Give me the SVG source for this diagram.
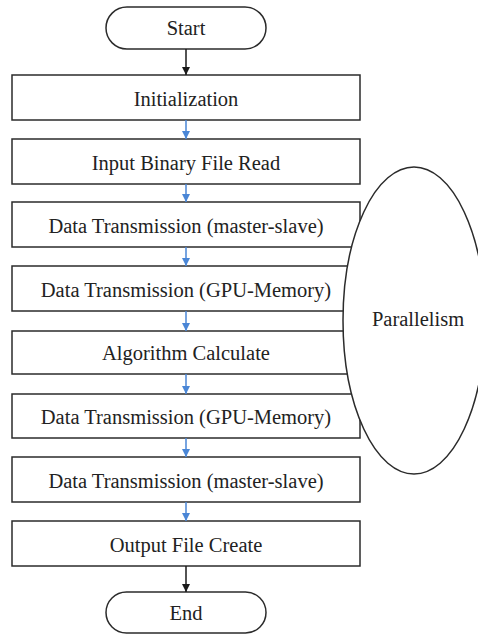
<svg xmlns="http://www.w3.org/2000/svg" width="478" height="635" viewBox="0 0 478 635">
  <style>
    .box { fill: #ffffff; stroke: #2b2b2b; stroke-width: 1.5; }
    .lbl { font-family: "Liberation Serif", "DejaVu Serif", serif; font-size: 20.5px; fill: #222222; text-anchor: middle; }
    .blk { stroke: #1a1a1a; stroke-width: 1.5; fill: none; }
    .blu { stroke: #4a86d6; stroke-width: 1.5; fill: none; }
  </style>
  <defs>
    <marker id="ahBlack" viewBox="0 0 10 10" refX="10" refY="5" markerWidth="8" markerHeight="8" markerUnits="userSpaceOnUse" orient="auto">
      <path d="M0,0 L10,5 L0,10 Z" fill="#1a1a1a"/>
    </marker>
    <marker id="ahBlue" viewBox="0 0 10 10" refX="10" refY="5" markerWidth="8" markerHeight="8" markerUnits="userSpaceOnUse" orient="auto">
      <path d="M0,0 L10,5 L0,10 Z" fill="#4a86d6"/>
    </marker>
  </defs>
  <rect width="478" height="635" fill="#ffffff"/>

  <!-- process steps -->
  <g id="start"><rect class="box" x="106" y="7" width="160" height="42" rx="21"/><text class="lbl" x="186" y="35">Start</text></g>
  <g id="init"><rect class="box" x="12" y="75" width="348" height="45"/><text class="lbl" x="186" y="105.5">Initialization</text></g>
  <g id="read"><rect class="box" x="12" y="139" width="348" height="45"/><text class="lbl" x="186" y="169.5">Input Binary File Read</text></g>
  <g id="ms1"><rect class="box" x="12" y="202" width="348" height="45"/><text class="lbl" x="186" y="232.5">Data Transmission (master-slave)</text></g>
  <g id="gpu1"><rect class="box" x="12" y="266" width="348" height="45"/><text class="lbl" x="186" y="296.5">Data Transmission (GPU-Memory)</text></g>
  <g id="calc"><rect class="box" x="12" y="331" width="348" height="43"/><text class="lbl" x="186" y="360">Algorithm Calculate</text></g>
  <g id="gpu2"><rect class="box" x="12" y="394" width="348" height="44"/><text class="lbl" x="186" y="424">Data Transmission (GPU-Memory)</text></g>
  <g id="ms2"><rect class="box" x="12" y="457" width="348" height="45"/><text class="lbl" x="186" y="487.5">Data Transmission (master-slave)</text></g>
  <g id="output"><rect class="box" x="12" y="521" width="348" height="45"/><text class="lbl" x="186" y="551.5">Output File Create</text></g>
  <g id="end"><rect class="box" x="106" y="592" width="160" height="41" rx="20.5"/><text class="lbl" x="186" y="620">End</text></g>

  <!-- parallel region, drawn over the box edges -->
  <g id="parallelism">
    <ellipse class="box" cx="414" cy="320.5" rx="71" ry="153.5"/>
    <text class="lbl" x="418" y="326">Parallelism</text>
  </g>

  <!-- connectors -->
  <g id="connectors">
    <line class="blk" x1="186" y1="49" x2="186" y2="75" marker-end="url(#ahBlack)"/>
    <line class="blu" x1="186" y1="120" x2="186" y2="139" marker-end="url(#ahBlue)"/>
    <line class="blu" x1="186" y1="184" x2="186" y2="202" marker-end="url(#ahBlue)"/>
    <line class="blu" x1="186" y1="247" x2="186" y2="266" marker-end="url(#ahBlue)"/>
    <line class="blu" x1="186" y1="311" x2="186" y2="331" marker-end="url(#ahBlue)"/>
    <line class="blu" x1="186" y1="374" x2="186" y2="394" marker-end="url(#ahBlue)"/>
    <line class="blu" x1="186" y1="438" x2="186" y2="457" marker-end="url(#ahBlue)"/>
    <line class="blu" x1="186" y1="502" x2="186" y2="521" marker-end="url(#ahBlue)"/>
    <line class="blk" x1="186" y1="566" x2="186" y2="592" marker-end="url(#ahBlack)"/>
  </g>
</svg>
